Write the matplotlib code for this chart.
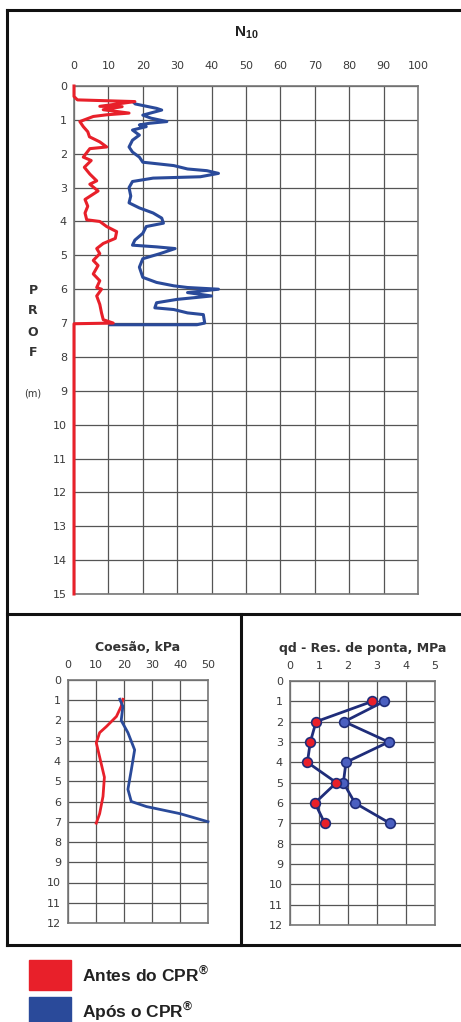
import numpy as np
import matplotlib.pyplot as plt
from matplotlib.patches import Rectangle
from matplotlib.lines import Line2D

plt.rcParams['font.family'] = ['Liberation Sans', 'DejaVu Sans']

RED = '#e8202a'
BLUE = '#2a4a9a'
NAVY = '#1f2d7a'
GRID = '#555555'

# N10 profile - before (red) and after (blue)
n_antes_prof = [0, 0.31, 0.41, 0.46, 0.6, 0.61, 0.7, 0.8, 0.85, 0.9, 1.05, 1.2, 1.35, 1.5, 1.65,
                1.8, 1.85, 2.1, 2.2, 2.4, 2.6, 2.8, 2.9, 3.1, 3.35, 3.55, 3.75, 3.95, 4.0, 4.15,
                4.3, 4.5, 4.65, 4.8, 4.95, 5.15, 5.3, 5.55, 5.75, 5.95, 6.0, 6.2, 6.45, 6.7, 6.9,
                7.0, 7.02, 15]
n_antes = [0, 0, 1, 17.7, 7.5, 14, 8.5, 16, 9.5, 5.6, 1.7, 2.7, 4, 4.5, 7.5,
           9.5, 4.6, 2.7, 5, 3, 4.6, 6.6, 4.6, 7, 3.2, 4, 3.2, 3.7, 7.5, 9.5,
           12.4, 12, 8.5, 6.6, 7.5, 5.6, 7, 5.6, 7.5, 6.6, 8, 6.6, 7.5, 8, 8.5,
           11.4, 0, 0]

n_apos_prof = [0.5, 0.53, 0.66, 0.71, 0.86, 0.95, 1.05, 1.1, 1.15, 1.2, 1.3, 1.45, 1.6, 1.8, 1.95,
               2.1, 2.25, 2.35, 2.45, 2.5, 2.58, 2.68, 2.72, 2.82, 3.0, 3.25, 3.45, 3.6, 3.75,
               3.9, 4.05, 4.15, 4.35, 4.55, 4.7, 4.75, 4.8, 4.95, 5.1, 5.35, 5.65, 5.8, 5.9,
               5.95, 6.0, 6.1, 6.2, 6.3, 6.4, 6.55, 6.6, 6.7, 6.75, 7.0, 7.05, 7.05]
n_apos = [17.5, 17.8, 24, 25.5, 20, 22.4, 27, 22, 19, 21, 17, 19, 17, 16, 17,
          19, 20, 29, 33, 38.6, 42, 36.7, 23, 17, 16, 16.5, 16, 19, 23,
          25.5, 26, 21, 20, 17.7, 17, 24, 29.4, 25, 20, 19, 20, 24, 29,
          33, 42, 33, 40, 30, 24, 23.5, 29, 33, 37.6, 38, 35.7, 10.5]

# Coesao, kPa
coe_antes_prof = [0.95, 1.3, 1.8, 2.3, 2.6, 3.1, 3.8, 4.8, 5.75, 6.6, 7.07]
coe_antes = [19.6, 19, 17.3, 13.7, 11.3, 10.1, 11.3, 13, 12.5, 11.3, 10.1]
coe_apos_prof = [0.95, 1.3, 2.0, 2.6, 3.45, 4.45, 5.4, 6.0, 6.25, 6.6, 7.0]
coe_apos = [18.5, 19.6, 19, 21.4, 23.8, 22.6, 21.4, 22.6, 28, 40, 50]

# qd - resistencia de ponta, MPa
qd_prof = [1, 2, 3, 4, 5, 6, 7]
qd_antes = [2.84, 0.9, 0.7, 0.6, 1.6, 0.86, 1.2]
qd_apos = [3.25, 1.87, 3.4, 1.93, 1.84, 2.24, 3.45]

W, H = 461, 1022
fig = plt.figure(figsize=(W / 100, H / 100), dpi=100)


def rect(x0, y0, x1, y1):
    return [x0 / W, 1 - y1 / H, (x1 - x0) / W, (y1 - y0) / H]


def style(ax, xmax, xstep, ymax, ylabels, xpad):
    ax.set_xlim(0, xmax)
    ax.set_ylim(ymax, 0)
    ax.set_xticks(np.arange(0, xmax + 0.001, xstep))
    ax.set_yticks(range(ymax + 1))
    ax.set_yticklabels(ylabels)
    ax.xaxis.tick_top()
    ax.tick_params(length=0, labelsize=8, colors='#3a3a3a', labelfontfamily='DejaVu Sans')
    ax.tick_params(axis='x', pad=xpad)
    ax.tick_params(axis='y', pad=5)
    ax.grid(True, color=GRID, lw=0.9)
    ax.set_axisbelow(True)
    for s in ax.spines.values():
        s.set_color('#777777')
        s.set_linewidth(1.2)


# top panel
ax1 = fig.add_axes(rect(74, 86, 418, 594))
ax1.plot(n_antes, n_antes_prof, color=RED, lw=2.2, zorder=5, clip_on=False)
ax1.plot(n_apos, n_apos_prof, color=BLUE, lw=2.2, zorder=4)
style(ax1, 100, 10, 15, [str(i) for i in range(16)], 11)
ax1.text(0.5, 1.105, r'N$_{\mathregular{10}}$', transform=ax1.transAxes, ha='center',
         va='center', fontsize=11, fontweight='bold', color='#222222')
for i, ch in enumerate('PROF'):
    fig.text(33 / W, 1 - (290 + i * 21) / H, ch, ha='center', va='center',
             fontsize=9, fontweight='bold', color='#333333', family='DejaVu Sans')
fig.text(33 / W, 1 - 393 / H, '(m)', ha='center', va='center', fontsize=7,
         color='#333333', family='DejaVu Sans')

ylab12 = [str(i) for i in range(13)]

# bottom-left panel
ax2 = fig.add_axes(rect(68, 680, 208, 923))
ax2.plot(coe_antes, coe_antes_prof, color=RED, lw=2.0, zorder=3)
ax2.plot(coe_apos, coe_apos_prof, color=BLUE, lw=2.0, zorder=3, clip_on=False)
style(ax2, 50, 10, 12, ylab12, 7)
ax2.set_title('Coesão, kPa', fontsize=9, fontweight='bold', color='#333333', pad=21,
              family='DejaVu Sans')

# bottom-right panel
ax3 = fig.add_axes(rect(290, 681, 435, 925))
ax3.plot(qd_apos, qd_prof, color=NAVY, lw=2.0, zorder=3, marker='o', ms=7,
         mfc='#4a5fc0', mec=NAVY, mew=1.2)
ax3.plot(qd_antes, qd_prof, color=NAVY, lw=2.0, zorder=4, marker='o', ms=7,
         mfc=RED, mec=NAVY, mew=1.2)
style(ax3, 5, 1, 12, ylab12, 7)
ax3.set_title('qd - Res. de ponta, MPa', fontsize=9, fontweight='bold', color='#333333',
              pad=21, family='DejaVu Sans')

# frame lines
frame = [((7, 461), (10, 10)), ((7, 7), (10, 945)), ((7, 461), (614, 614)),
         ((241, 241), (614, 945)), ((7, 461), (945, 945))]
for xs, ys in frame:
    fig.add_artist(Line2D([x / W for x in xs], [1 - y / H for y in ys],
                          color='#111111', lw=2.2))

# legend
for y0, col, txt in [(960, RED, 'Antes do CPR'), (997, BLUE, 'Após o CPR')]:
    fig.add_artist(Rectangle((29 / W, 1 - (y0 + 30) / H), 42 / W, 30 / H,
                             transform=fig.transFigure, color=col))
    fig.text(82 / W, 1 - (y0 + 14) / H, txt + r'$^{\mathregular{®}}$', ha='left',
             va='center', fontsize=12.5, fontweight='bold', color='#222222')

fig.savefig('out.png', dpi=100)
